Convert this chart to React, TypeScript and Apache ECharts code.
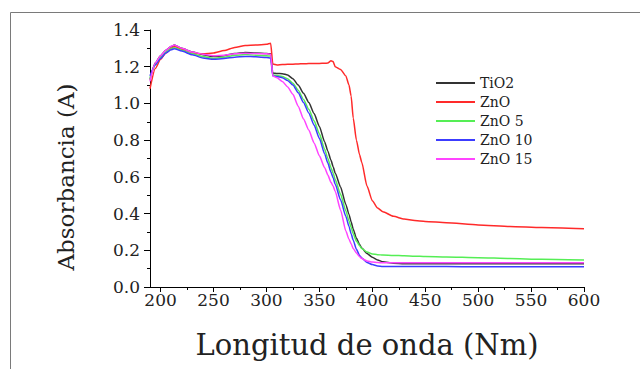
import React, { useEffect, useRef } from "react";
import * as echarts from "echarts";

const wavelengths = [190,195,200,205,210,213,220,230,240,250,260,270,280,290,300,304,306,310,315,320,325,330,335,340,345,350,355,358,361,363,365,370,375,378,380,382,385,388,390,395,400,405,410,420,430,440,450,470,500,530,560,600];

const tio2 = [1.13,1.22,1.26,1.29,1.31,1.318,1.30,1.28,1.265,1.255,1.26,1.272,1.278,1.275,1.272,1.27,1.165,1.163,1.162,1.155,1.135,1.10,1.055,1.005,0.945,0.875,0.79,0.74,0.69,0.655,0.62,0.545,0.45,0.395,0.355,0.315,0.265,0.232,0.212,0.182,0.162,0.147,0.137,0.129,0.127,0.127,0.127,0.127,0.127,0.127,0.127,0.127];

const zno = [1.08,1.19,1.24,1.275,1.30,1.31,1.295,1.275,1.27,1.275,1.288,1.305,1.315,1.318,1.322,1.328,1.215,1.21,1.212,1.213,1.214,1.215,1.216,1.217,1.218,1.218,1.219,1.22,1.232,1.228,1.20,1.185,1.15,1.10,1.04,0.92,0.80,0.72,0.68,0.55,0.47,0.43,0.41,0.385,0.37,0.362,0.357,0.35,0.338,0.33,0.324,0.317];

const zno5 = [1.14,1.21,1.25,1.28,1.298,1.303,1.29,1.27,1.255,1.245,1.252,1.262,1.266,1.263,1.26,1.258,1.155,1.152,1.147,1.135,1.11,1.072,1.022,0.968,0.905,0.835,0.75,0.70,0.65,0.62,0.585,0.505,0.415,0.36,0.325,0.29,0.25,0.225,0.21,0.19,0.18,0.176,0.174,0.172,0.17,0.168,0.166,0.164,0.16,0.155,0.151,0.147];

const zno10 = [1.15,1.21,1.245,1.275,1.293,1.298,1.285,1.265,1.248,1.24,1.245,1.252,1.256,1.254,1.25,1.248,1.15,1.147,1.14,1.125,1.10,1.058,1.005,0.948,0.882,0.81,0.725,0.675,0.625,0.595,0.56,0.475,0.385,0.33,0.29,0.255,0.205,0.172,0.158,0.134,0.122,0.115,0.112,0.111,0.111,0.111,0.111,0.111,0.11,0.11,0.11,0.11];

const zno15 = [1.12,1.22,1.26,1.29,1.312,1.318,1.30,1.28,1.268,1.26,1.262,1.27,1.273,1.272,1.27,1.268,1.15,1.14,1.12,1.09,1.05,0.985,0.915,0.855,0.785,0.715,0.65,0.61,0.57,0.55,0.52,0.42,0.305,0.26,0.235,0.21,0.185,0.165,0.155,0.142,0.136,0.133,0.132,0.132,0.132,0.132,0.132,0.132,0.132,0.132,0.132,0.132];

const seriesNames = ["TiO2", "ZnO", "ZnO 5", "ZnO 10", "ZnO 15"];
const seriesValues = [tio2, zno, zno5, zno10, zno15];
const seriesColors = ["#333333", "#ff2a2a", "#55ee55", "#3c3cff", "#ff44ff"];

const xMajorTicks = [200, 250, 300, 350, 400, 450, 500, 550, 600];
const xMinorTicks = [225, 275, 325, 375, 425, 475, 525, 575];

const xTitle = "Longitud de onda (Nm)";
const yTitle = "Absorbancia (A)";

const FONT = "DejaVu Serif";
const TEXT_COLOR = "#222";

export default function App() {
  const ref = useRef<HTMLDivElement>(null);

  useEffect(() => {
    if (!ref.current) return;
    const chart = echarts.init(ref.current, undefined, { renderer: "svg" });
    const option: any = {
      animation: false,
      backgroundColor: "#ffffff",
      grid: { left: 150, right: 56, top: 30, bottom: 82 },
      legend: {
        left: 436,
        top: 75,
        orient: "vertical",
        padding: 0,
        icon: "rect",
        itemWidth: 39,
        itemHeight: 2,
        itemGap: 3,
        textStyle: { fontFamily: FONT, fontSize: 14, color: TEXT_COLOR, lineHeight: 16 },
        data: seriesNames,
      },
      xAxis: [
        {
          type: "value",
          min: 190,
          max: 600,
          splitLine: { show: false },
          axisLine: { show: true, lineStyle: { color: "#000", width: 1 } },
          axisTick: { show: true, customValues: xMajorTicks, length: 5, lineStyle: { color: "#000" } },
          axisLabel: {
            customValues: xMajorTicks,
            margin: 4,
            fontFamily: FONT,
            fontSize: 17,
            color: TEXT_COLOR,
          },
        },
        {
          type: "value",
          min: 190,
          max: 600,
          position: "bottom",
          splitLine: { show: false },
          axisLine: { show: false },
          axisTick: { show: true, customValues: xMinorTicks, length: 3, lineStyle: { color: "#000" } },
          axisLabel: { show: false },
        },
      ],
      yAxis: {
        type: "value",
        min: 0,
        max: 1.4,
        interval: 0.2,
        splitLine: { show: false },
        axisLine: { show: true, lineStyle: { color: "#000", width: 1 } },
        axisTick: { show: true, length: 6, lineStyle: { color: "#000" } },
        minorTick: { show: true, splitNumber: 2, length: 3, lineStyle: { color: "#000" } },
        axisLabel: {
          margin: 10,
          fontFamily: FONT,
          fontSize: 17,
          color: TEXT_COLOR,
          formatter: (v: number) => v.toFixed(1),
        },
      },
      series: seriesNames.map((name, i) => ({
        name,
        type: "line",
        xAxisIndex: 0,
        showSymbol: false,
        symbol: "none",
        smooth: 0.2,
        smoothMonotone: "x",
        lineStyle: { color: seriesColors[i], width: 1.5 },
        itemStyle: { color: seriesColors[i] },
        data: wavelengths.map((w, j) => [w, seriesValues[i][j]]),
      })),
      graphic: [
        {
          type: "rect",
          shape: { x: 10.5, y: 12.5, width: 800, height: 500 },
          style: { fill: "none", stroke: "#7a7a7a", lineWidth: 1 },
          silent: true,
        },
        {
          type: "text",
          x: 66,
          y: 177,
          rotation: Math.PI / 2,
          style: {
            text: yTitle,
            x: 0,
            y: 0,
            textAlign: "center",
            textVerticalAlign: "middle",
            fontFamily: FONT,
            fontSize: 23,
            fill: TEXT_COLOR,
          },
        },
        {
          type: "text",
          x: 367,
          y: 345,
          style: {
            text: xTitle,
            x: 0,
            y: 0,
            textAlign: "center",
            textVerticalAlign: "middle",
            fontFamily: FONT,
            fontSize: 29,
            fill: TEXT_COLOR,
          },
        },
      ],
    };
    chart.setOption(option);
    return () => chart.dispose();
  }, []);

  return (
    <div
      ref={ref}
      style={{ position: "fixed", left: 0, top: 0, width: 640, height: 369 }}
    />
  );
}
